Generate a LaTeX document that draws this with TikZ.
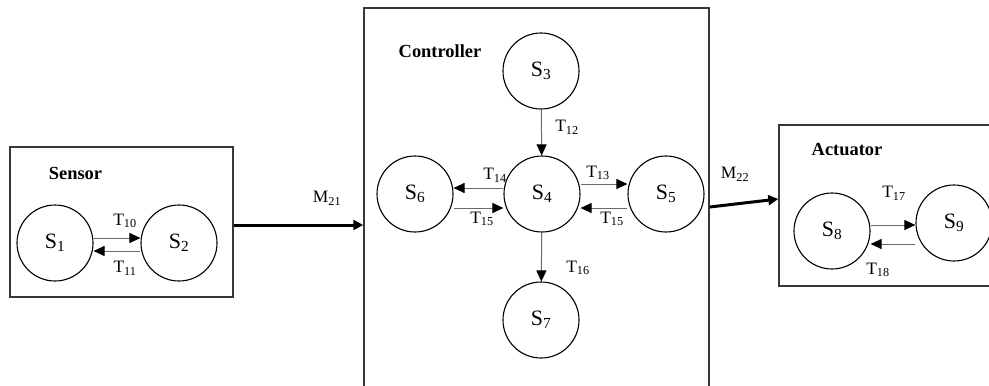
\documentclass[tikz,border=0pt]{standalone}
\usepackage{fontspec}
\setmainfont{Liberation Serif}
\usetikzlibrary{arrows.meta}
\definecolor{boxline}{RGB}{55,55,55}
\definecolor{shaft}{RGB}{105,105,105}
\tikzset{blk/.style={draw=boxline,line width=1.4bp,inner sep=0pt},
 stcirc/.style={circle,draw=black,line width=1.1bp,minimum size=76bp,inner sep=0pt,font=\fontsize{22}{26}\selectfont},
 tlab/.style={inner sep=0pt,font=\fontsize{17.5}{20}\selectfont},
 blab/.style={inner sep=0pt,font=\fontsize{18.5}{22}\selectfont\bfseries},
 trans/.style={draw=shaft,line width=1bp,-{Triangle[length=11bp,width=10bp,color=black]}},
 msg/.style={draw=black,line width=3bp,-{Triangle[length=10bp,width=10bp]}}}

\begin{document}
\begin{tikzpicture}[x=1bp,y=-1bp]
\useasboundingbox (0,0) rectangle (989,385);
\clip (0,0) rectangle (989,385);
% the three blocks
\node[blk,minimum width=223bp,minimum height=150bp] (sensor) at (121.5,222) {};
\node[blk,minimum width=345bp,minimum height=460bp] (ctrl) at (536.5,238) {};
\node[blk,minimum width=321bp,minimum height=161bp] (act) at (939.5,205.5) {};
\node[blab] (sensorlab) at (75.5,173) {Sensor};
\node[blab] (ctrllab) at (440,51) {Controller};
\node[blab] (actlab) at (847,150) {Actuator};
% states
\node[stcirc] (s1) at (55,243) {S\textsubscript{1}};
\node[stcirc] (s2) at (179,243) {S\textsubscript{2}};
\node[stcirc] (s3) at (541,71) {S\textsubscript{3}};
\node[stcirc] (s4) at (542,194) {S\textsubscript{4}};
\node[stcirc] (s5) at (666,194) {S\textsubscript{5}};
\node[stcirc] (s6) at (415,194) {S\textsubscript{6}};
\node[stcirc] (s7) at (541,320) {S\textsubscript{7}};
\node[stcirc] (s8) at (832,231) {S\textsubscript{8}};
\node[stcirc] (s9) at (954,223) {S\textsubscript{9}};
% transitions
\draw[trans] ([yshift=5bp]s1.east) -- ([yshift=5bp]s2.west);
\draw[trans] ([yshift=-8bp]s2.west) -- ([yshift=-8bp]s1.east);
\draw[trans] (s3) -- (s4);
\draw[trans] ([yshift=10bp]s4.east) -- ([yshift=10bp]s5.west);
\draw[trans] ([yshift=6bp]s4.west) -- ([yshift=6bp]s6.east);
\draw[trans] ([yshift=-14bp]s6.east) -- ([yshift=-14bp]s4.west);
\draw[trans] ([yshift=-14bp]s5.west) -- ([yshift=-14bp]s4.east);
\draw[trans] (s4) -- (s7);
\draw[trans] ([yshift=6bp]s8.east) coordinate (t17a) -- (t17a -| s9.west);
\draw[trans] ([yshift=-13bp]s8.east) coordinate (t18b) (t18b -| s9.west) -- (t18b);
\node[tlab] (t10) at (125,221) {T\textsubscript{10}};
\node[tlab] (t11) at (125,268) {T\textsubscript{11}};
\node[tlab] (t12) at (567,127) {T\textsubscript{12}};
\node[tlab] (t13) at (598,173) {T\textsubscript{13}};
\node[tlab] (t14) at (495,175) {T\textsubscript{14}};
\node[tlab] (t15a) at (482,219) {T\textsubscript{15}};
\node[tlab] (t15b) at (612,219) {T\textsubscript{15}};
\node[tlab] (t16) at (578,268) {T\textsubscript{16}};
\node[tlab] (t17) at (894,193) {T\textsubscript{17}};
\node[tlab] (t18) at (878,270) {T\textsubscript{18}};
% messages between blocks
\draw[msg] ([yshift=-3bp]sensor.east) coordinate (m21a) -- (m21a -| ctrl.west);
\draw[msg] ([yshift=31bp]ctrl.east) -- ([yshift=6.5bp]act.west);
\node[tlab] (m21) at (327,198) {M\textsubscript{21}};
\node[tlab] (m22) at (735,174) {M\textsubscript{22}};
\end{tikzpicture}
\end{document}
